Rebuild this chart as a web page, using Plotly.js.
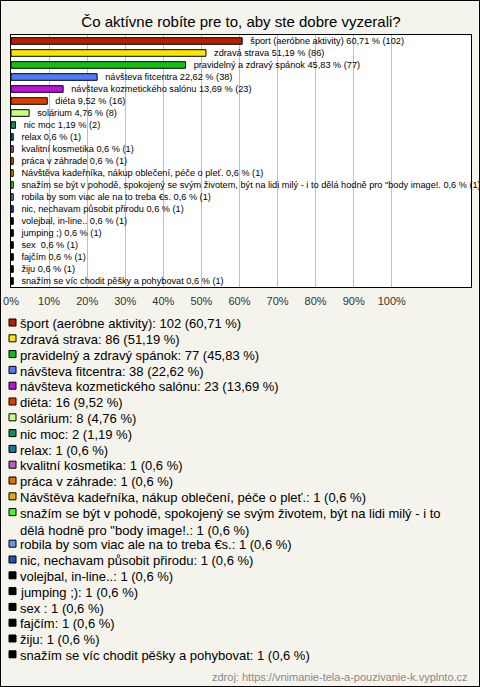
<!DOCTYPE html>
<html><head><meta charset="utf-8">
<script src="https://cdn.plot.ly/plotly-3.0.1.min.js"></script>
<style>
html,body{margin:0;padding:0;background:#f4f3ec;}
#frame{width:478px;height:685px;border:1px solid #000;background:#f4f3ec;}
#chart{width:478px;height:685px;}
</style></head>
<body><div id="frame"><div id="chart"></div></div>
<script>
const categories = [
  "šport (aeróbne aktivity)",
  "zdravá strava",
  "pravidelný a zdravý spánok",
  "návšteva fitcentra",
  "návšteva kozmetického salónu",
  "diéta",
  "solárium",
  "nic moc",
  "relax",
  "kvalitní kosmetika",
  "práca v záhrade",
  "Návštěva kadeřníka, nákup oblečení, péče o pleť.",
  "snažím se být v pohodě, spokojený se svým životem, být na lidi milý - i to dělá hodně pro \"body image!.",
  "robila by som viac ale na to treba €s.",
  "nic, nechavam působit přirodu",
  "volejbal, in-line..",
  "jumping ;)",
  "sex ",
  "fajčím",
  "žiju",
  "snažím se víc chodit pěšky a pohybovat"
];
const counts = [102, 86, 77, 38, 23, 16, 8, 2, 1, 1, 1, 1, 1, 1, 1, 1, 1, 1, 1, 1, 1];
const percents = [60.71, 51.19, 45.83, 22.62, 13.69, 9.52, 4.76, 1.19, 0.6, 0.6, 0.6, 0.6, 0.6, 0.6, 0.6, 0.6, 0.6, 0.6, 0.6, 0.6, 0.6];
const tickValues = [0, 10, 20, 30, 40, 50, 60, 70, 80, 90, 100];
const tickLabels = ["0%", "10%", "20%", "30%", "40%", "50%", "60%", "70%", "80%", "90%", "100%"];
const titleText = "Čo aktívne robíte pre to, aby ste dobre vyzerali?";
const sourceText = "zdroj: https://vnimanie-tela-a-pouzivanie-k.vyplnto.cz";

const barColors = ["#b81e00", "#ffe600", "#12c012", "#4f7cff", "#c010e0", "#e03c00", "#c8ff80",
  "#109060", "#157a8c", "#c060c0", "#e07000", "#e0b000", "#50f030", "#6a95e0", "#2050c0",
  "#000000", "#000000", "#000000", "#000000", "#000000", "#000000"];

const fmt = p => String(p).replace('.', ',');
const barLabels = categories.map((c, i) => '\u00a0\u00a0' + c + ' ' + fmt(percents[i]) + ' % (' + counts[i] + ')');

function wrap(s, n) {
  const words = s.split(' ');
  const lines = []; let cur = '';
  for (const w of words) {
    if (cur && (cur + ' ' + w).length > n) { lines.push(cur); cur = w; }
    else cur = cur ? cur + ' ' + w : w;
  }
  if (cur) lines.push(cur);
  return lines;
}

// geometry (div coords; page = div + 1)
const W = 478, H = 685;
const mL = 10, mR = 8, mT = 34, mB = 399;
const pw = W - mL - mR, ph = H - mT - mB;
const px = X => (X - 1 - mL) / pw;
const py = Y => (H - mB - (Y - 1)) / ph;

const annotations = [];
const shapes = [];
let line = 0;
const lineY0 = 323, pitch = 15.8;
categories.forEach((c, i) => {
  const txt = c + ': ' + counts[i] + ' (' + fmt(percents[i]) + ' %)';
  const lines = wrap(txt, 76);
  const yc = lineY0 + pitch * line;
  annotations.push({
    xref: 'paper', yref: 'paper', x: px(18), y: py(yc - pitch / 2 - 1),
    xanchor: 'left', yanchor: 'top', align: 'left', showarrow: false,
    text: lines.join('<br>'),
    font: {family: 'Liberation Sans, Arial, sans-serif', size: 13, color: '#000'}
  });
  shapes.push({
    type: 'rect', xref: 'paper', yref: 'paper',
    x0: px(9), x1: px(16), y0: py(yc - 4), y1: py(yc + 3),
    fillcolor: barColors[i], line: {color: '#000', width: 1}
  });
  line += lines.length;
});
annotations.push({
  xref: 'paper', yref: 'paper', x: px(470), y: py(677),
  xanchor: 'right', yanchor: 'middle', showarrow: false, text: sourceText,
  font: {family: 'Liberation Sans, Arial, sans-serif', size: 11, color: '#8a8a8a'}
});

const trace = {
  type: 'bar', orientation: 'h',
  y: categories, x: percents,
  width: 0.55,
  marker: {color: barColors, line: {color: '#000', width: 1}},
  text: barLabels, textposition: 'outside', cliponaxis: false, constraintext: 'none',
  textfont: {family: 'Liberation Sans, Arial, sans-serif', size: 9.2, color: '#000'},
  hoverinfo: 'skip'
};

const layout = {
  width: W, height: H,
  margin: {l: mL, r: mR, t: mT, b: mB, pad: 0},
  paper_bgcolor: '#f4f3ec', plot_bgcolor: '#ffffff',
  showlegend: false,
  title: {text: titleText, x: 0.5, xref: 'paper', xanchor: 'center', y: 1 - 21 / H, yanchor: 'middle',
    font: {family: 'Liberation Sans, Arial, sans-serif', size: 15, color: '#000'}},
  xaxis: {range: [0, 120.8], tickvals: tickValues, ticktext: tickLabels, showgrid: true,
    gridcolor: '#c0c0c0', gridwidth: 1, zeroline: false, showline: true, mirror: true,
    linecolor: '#000', linewidth: 1, ticks: '', ticklabelstandoff: 4, fixedrange: true,
    tickfont: {family: 'Liberation Sans, Arial, sans-serif', size: 11, color: '#333'}},
  yaxis: {type: 'category', autorange: 'reversed', showticklabels: false, showgrid: false,
    zeroline: false, showline: true, mirror: true, linecolor: '#000', linewidth: 1, ticks: '', fixedrange: true},
  annotations: annotations,
  shapes: shapes
};

Plotly.newPlot('chart', [trace], layout, {displayModeBar: false, staticPlot: true});
</script></body></html>
